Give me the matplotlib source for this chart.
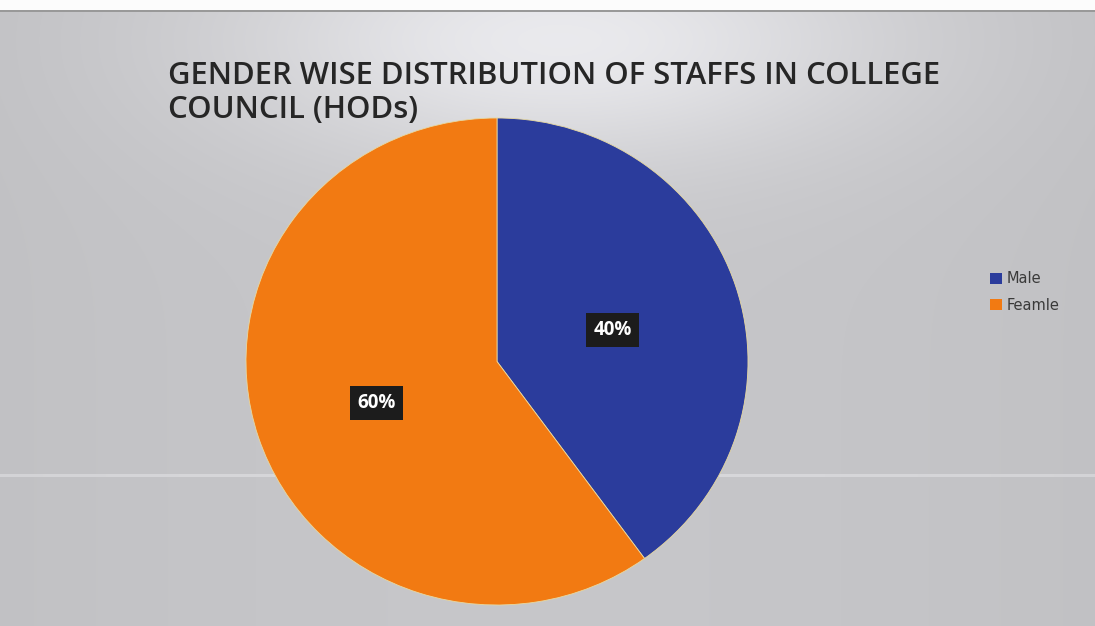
import numpy as np
import matplotlib
matplotlib.use("Agg")
import matplotlib.pyplot as plt

# Data
categories = ["Male", "Feamle"]
shares = [40, 60]
colors = ["#2b3c9c", "#f27a12"]
title = "GENDER WISE DISTRIBUTION OF STAFFS IN COLLEGE\nCOUNCIL (HODs)"

W, H, DPI = 1095, 626, 100
fig = plt.figure(figsize=(W / DPI, H / DPI), dpi=DPI)

# Background: grey panel with a lighter area near the top centre
bg = fig.add_axes([0, 0, 1, 1])
bg.set_axis_off()
yy, xx = np.mgrid[0:H, 0:W]
base = 0.79 + 0.0 * xx
glow = 0.14 * np.exp(-((xx - 560) / 330.0) ** 2) * np.exp(-((yy - 40) / 120.0) ** 2)
side = -0.02 * ((xx - 548) / 548.0) ** 2
img = np.clip(base + glow + side, 0, 1)
rgb = np.stack([img * 0.985, img * 0.985, img * 1.0], axis=-1)
rgb[:10, :, :] = 0.99
rgb[10:12, :, :] = 0.6
rgb[474:477, :, :] = np.clip(rgb[474:477, :, :] + 0.07, 0, 1)
bg.imshow(rgb, extent=[0, W, H, 0], aspect="auto", interpolation="bilinear")
bg.set_xlim(0, W)
bg.set_ylim(H, 0)

# Pie
cx, cy, rx, ry = 497, 361.5, 251, 243.5
ax = fig.add_axes([(cx - rx) / W, 1 - (cy + ry) / H, 2 * rx / W, 2 * ry / H])
wedges, _ = ax.pie(shares, colors=colors, startangle=90, counterclock=False,
                   radius=1.0, wedgeprops=dict(edgecolor="#e8d9a0", linewidth=0.6))
ax.set_xlim(-1, 1)
ax.set_ylim(-1, 1)
ax.set_aspect("auto")
ax.set_axis_off()

# Percentage labels on dark boxes
label_pos = [(0.46, 0.13), (-0.48, -0.17)]
for (lx, ly), v in zip(label_pos, shares):
    ax.text(lx, ly, f"{v}%", ha="center", va="center", color="white",
            fontsize=13.5, fontweight="bold", family="Open Sans",
            bbox=dict(boxstyle="square,pad=0.38", facecolor="#1c1c1c", edgecolor="none"))

# Title
fig.text(168 / W, 1 - 93 / H, title, ha="left", va="center", fontsize=22.3,
         fontweight="semibold", family="Open Sans", color="#262626", linespacing=1.18)

# Legend
leg_handles = [plt.Rectangle((0, 0), 1, 1, facecolor=c, edgecolor="none") for c in colors]
fig.legend(leg_handles, categories, loc="center left", bbox_to_anchor=(983 / W, 1 - 292 / H),
           frameon=False, fontsize=10.5, handlelength=0.8, handleheight=0.8,
           handletextpad=0.3, labelspacing=0.8, borderpad=0, labelcolor="#3a3a3a")

fig.savefig("out.png", dpi=DPI)
